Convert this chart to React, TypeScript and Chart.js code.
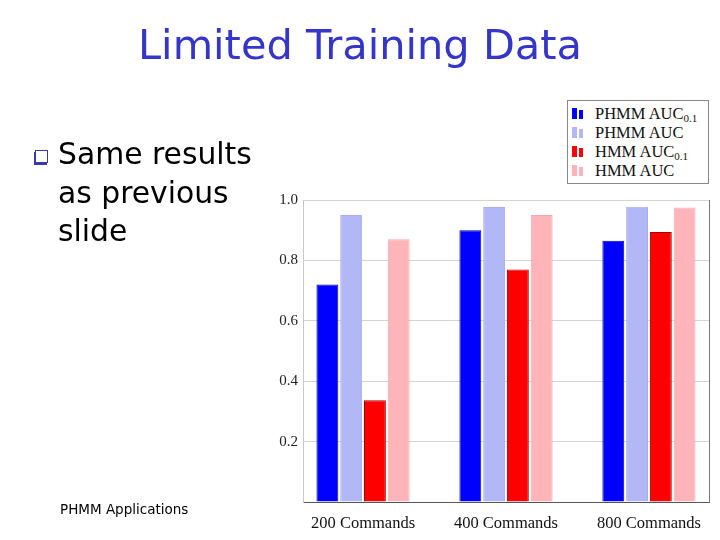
import React, { useEffect, useRef } from "react";
import { Chart, registerables } from "chart.js";

Chart.register(...registerables);

const categories = ["200 Commands", "400 Commands", "800 Commands"];
const seriesNames = ["PHMM AUC", "PHMM AUC", "HMM AUC", "HMM AUC"];
const seriesSubs = ["0.1", "", "0.1", ""];
const phmmAuc01 = [0.72, 0.9, 0.865];
const phmmAuc = [0.95, 0.977, 0.978];
const hmmAuc01 = [0.337, 0.77, 0.894];
const hmmAuc = [0.87, 0.95, 0.975];
const yTicks = [0.2, 0.4, 0.6, 0.8, 1.0];

const fills = ["#0000ff", "#b2b8f6", "#ff0000", "#ffb4b9"];
const edges = ["#0000a8", "#a8aef0", "#a80000", "#f0a8ae"];

const seriesValues = [phmmAuc01, phmmAuc, hmmAuc01, hmmAuc];

export default function App() {
  const ref = useRef<HTMLCanvasElement>(null);

  useEffect(() => {
    if (!ref.current) return;
    const chart = new Chart(ref.current, {
      type: "bar",
      data: {
        datasets: seriesValues.map((vals, si) => ({
          label: seriesNames[si] + seriesSubs[si],
          data: vals.map((v, i) => ({ x: i, y: v })),
          backgroundColor: fills[si],
          borderColor: edges[si],
          borderWidth: 1,
          barPercentage: 0.92,
          categoryPercentage: 0.665,
        })),
      },
      options: {
        animation: false,
        responsive: false,
        maintainAspectRatio: false,
        layout: { padding: { left: 260, right: 11, top: 200, bottom: 8 } },
        plugins: { legend: { display: false }, tooltip: { enabled: false } },
        scales: {
          x: {
            type: "linear",
            min: -0.42,
            max: 2.42,
            offset: false,
            grid: { display: false, offset: false },
            border: { display: true, color: "#555555", width: 1 },
            afterBuildTicks: (axis: any) => {
              axis.ticks = categories.map((_, i) => ({ value: i }));
            },
            afterFit: (axis: any) => {
              axis.height = 30;
            },
            ticks: {
              autoSkip: false,
              maxRotation: 0,
              padding: 4,
              color: "#111111",
              font: { family: "'Liberation Serif', 'DejaVu Serif', serif", size: 16.5 },
              callback: (v: any) => categories[Math.round(Number(v))] ?? "",
            },
          },
          y: {
            type: "linear",
            min: 0,
            max: 1,
            afterBuildTicks: (axis: any) => {
              axis.ticks = [{ value: 0 }, ...yTicks.map((v) => ({ value: v }))];
            },
            afterFit: (axis: any) => {
              axis.width = 43;
            },
            grid: { color: "#d4d4d4", drawTicks: false, lineWidth: 1 },
            border: { display: true, color: "#c8c8c8", width: 1 },
            ticks: {
              padding: 5,
              color: "#222222",
              font: { family: "'Liberation Serif', 'DejaVu Serif', serif", size: 15 },
              callback: (v: any) => (Number(v) === 0 ? "" : Number(v).toFixed(1)),
            },
          },
          y2: {
            type: "linear",
            position: "right",
            min: 0,
            max: 1,
            grid: { display: false },
            border: { display: true, color: "#777777", width: 1 },
            ticks: { display: false },
            afterFit: (axis: any) => {
              axis.width = 0;
            },
          },
        },
      },
    } as any);
    return () => chart.destroy();
  }, []);

  const textFont = "'DejaVu Sans', 'Noto Sans', sans-serif";

  return (
    <div
      style={{
        position: "absolute",
        left: 0,
        top: 0,
        width: 720,
        height: 540,
        background: "#ffffff",
        overflow: "hidden",
      }}
    >
      <canvas
        ref={ref}
        width={720}
        height={540}
        style={{ position: "absolute", left: 0, top: 0, width: 720, height: 540 }}
      />
      <div
        style={{
          position: "absolute",
          left: 0,
          top: 17,
          width: 720,
          textAlign: "center",
          fontFamily: textFont,
          fontSize: 41.5,
          color: "#3535c8",
          lineHeight: "56px",
        }}
      >
        Limited Training Data
      </div>
      <div
        style={{
          position: "absolute",
          left: 35,
          top: 150,
          width: 11,
          height: 11,
          border: "1px solid #3a3ab0",
          background: "#ffffff",
          boxShadow: "-1px 2px 0 #3a3ab0",
        }}
      />
      <div
        style={{
          position: "absolute",
          left: 58,
          top: 135,
          fontFamily: textFont,
          fontSize: 29.8,
          color: "#000000",
          lineHeight: "38.5px",
        }}
      >
        Same results
        <br />
        as previous
        <br />
        slide
      </div>
      <div
        style={{
          position: "absolute",
          left: 60,
          top: 501,
          fontFamily: textFont,
          fontSize: 13.5,
          color: "#000000",
        }}
      >
        PHMM Applications
      </div>
      <div
        style={{
          position: "absolute",
          left: 567,
          top: 100,
          width: 140,
          height: 82,
          border: "1px solid #888888",
          background: "#ffffff",
          boxSizing: "content-box",
        }}
      >
        {seriesNames.map((name, i) => (
          <div
            key={i}
            style={{
              position: "absolute",
              left: 0,
              top: 3 + i * 19,
              height: 19,
              display: "flex",
              alignItems: "center",
            }}
          >
            <span
              style={{
                display: "inline-block",
                marginLeft: 4,
                width: 5,
                height: 11,
                background: fills[i],
              }}
            />
            <span
              style={{
                display: "inline-block",
                marginLeft: 2,
                width: 4,
                height: 9,
                marginTop: 2,
                background: fills[i],
              }}
            />
            <span
              style={{
                marginLeft: 12,
                fontFamily: "'Liberation Serif', 'DejaVu Serif', serif",
                fontSize: 16.5,
                color: "#111111",
                whiteSpace: "nowrap",
              }}
            >
              {name}
              {seriesSubs[i] ? (
                <sub style={{ fontSize: 11, verticalAlign: "-3px" }}>{seriesSubs[i]}</sub>
              ) : null}
            </span>
          </div>
        ))}
      </div>
    </div>
  );
}
